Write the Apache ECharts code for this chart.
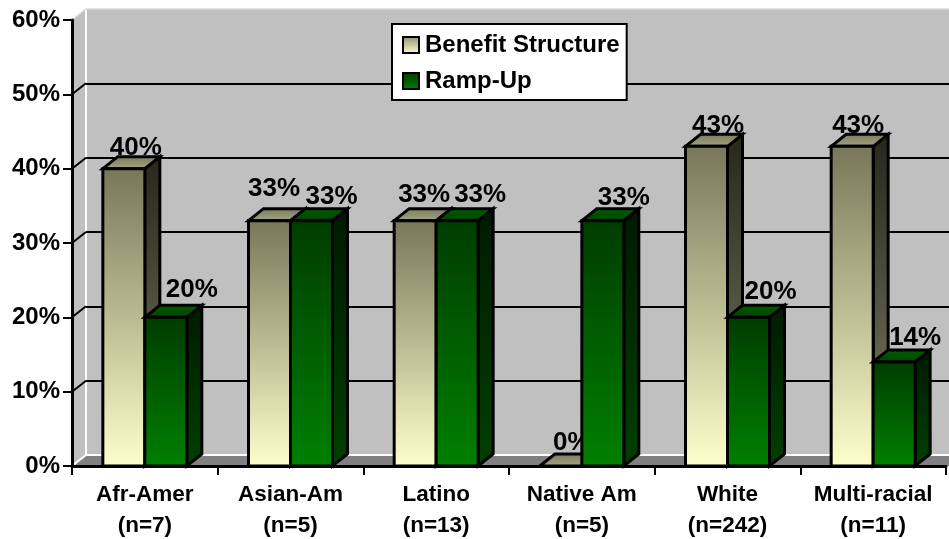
<!DOCTYPE html>
<html><head><meta charset="utf-8">
<style>html,body{margin:0;padding:0;background:#fff}#c{width:949px;height:539px}</style>
<script src="https://cdn.jsdelivr.net/npm/echarts@6/dist/echarts.min.js"></script>
</head><body><div id="c"></div>
<script>
const categories = ['Afr-Amer\n(n=7)','Asian-Am\n(n=5)','Latino\n(n=13)','Native Am\n(n=5)','White\n(n=242)','Multi-racial\n(n=11)'];
const benefitStructure = [40,33,33,0,43,43];
const rampUp = [20,33,33,33,20,14];
const yTicks = [0,10,20,30,40,50,60];
// label placement relative to the bar (Excel's hand-nudged labels)
const benefitLabelNudge = [[12,-21],[4.5,-31.5],[9,-25.5],[11,-23.5],[11.5,-20.5],[6,-20.5]];
const rampLabelNudge = [[26,-27.5],[20,-24],[23,-25.5],[21,-22.5],[22,-25.5],[21,-24.5]];

const FONT = '"Liberation Sans", Arial, sans-serif';
const WALL_DX = 14, WALL_DY = -11, BAR_DX = 15, BAR_DY = -12, BAR_FRAC = 42 / 145.7;
const G = (a, b, x2, y2) => new echarts.graphic.LinearGradient(0, 0, x2 === undefined ? 0 : x2, y2 === undefined ? 1 : y2, [{offset:0,color:a},{offset:1,color:b}]);

const palette = {
  benefit: {front:['#777759','#ffffcc'], side:['#26261b','#7f7f66'], top:['#77775a','#a8a888']},
  ramp:    {front:['#003c00','#008000'], side:['#001a00','#004000'], top:['#006000','#004000']}
};

function barRender(side, pal, nudge) {
  return function (params, api) {
    const i = api.value(0), v = api.value(1);
    const base = api.coord([i, 0]);
    const top = api.coord([i, v]);
    const w = api.size([1, 0])[0] * BAR_FRAC;
    const x0 = side < 0 ? base[0] - w : base[0];
    const x1 = x0 + w;
    const yb = base[1], yt = top[1];
    const stroke = {stroke:'#000', lineWidth:3, lineJoin:'miter'};
    const children = [];
    children.push({type:'polygon', shape:{points:[[x1,yt],[x1+BAR_DX,yt+BAR_DY],[x1+BAR_DX,yb+BAR_DY],[x1,yb]]},
      style:Object.assign({fill:G(pal.side[0],pal.side[1])}, stroke)});
    children.push({type:'polygon', shape:{points:[[x0,yt],[x0+BAR_DX,yt+BAR_DY],[x1+BAR_DX,yt+BAR_DY],[x1,yt]]},
      style:Object.assign({fill:G(pal.top[0],pal.top[1])}, stroke)});
    if (v > 0) children.push({type:'rect', shape:{x:x0,y:yt,width:w,height:yb-yt},
      style:Object.assign({fill:G(pal.front[0],pal.front[1])}, stroke)});
    const n = nudge[i];
    children.push({type:'text', style:{text:v+'%', x:(x0+x1)/2+n[0], y:yt+n[1], textAlign:'center', textVerticalAlign:'middle',
      fill:'#000', font:'bold 26px '+FONT}});
    return {type:'group', children};
  };
}

function axisLeft(api) { return api.coord([0, 0])[0] - api.size([1, 0])[0] / 2; }

function wallRender(params, api) {
  const xl = axisLeft(api);
  const p0 = [xl, api.coord([0, 0])[1]], p60 = [xl, api.coord([0, 60])[1]];
  const xr = api.getWidth() + 40;
  const white = {stroke:'#fff', lineWidth:2, fill:null};
  return {type:'group', children:[
    {type:'polygon', shape:{points:[[p0[0],p0[1]],[p60[0],p60[1]],[p60[0]+WALL_DX,p60[1]+WALL_DY],[p0[0]+WALL_DX,p0[1]+WALL_DY]]}, style:{fill:'#c0c0c0'}},
    {type:'polygon', shape:{points:[[p0[0],p0[1]],[p0[0]+WALL_DX,p0[1]+WALL_DY],[xr,p0[1]+WALL_DY],[xr,p0[1]]]}, style:{fill:'#808080'}},
    {type:'line', shape:{x1:p0[0]+WALL_DX,y1:p0[1]+WALL_DY,x2:p60[0]+WALL_DX,y2:p60[1]+WALL_DY}, style:white},
    {type:'line', shape:{x1:p0[0]+WALL_DX,y1:p0[1]+WALL_DY,x2:xr,y2:p0[1]+WALL_DY}, style:white},
    {type:'line', shape:{x1:p0[0],y1:p0[1],x2:p0[0]+WALL_DX,y2:p0[1]+WALL_DY}, style:white},
    {type:'line', shape:{x1:p60[0],y1:p60[1],x2:p60[0]+WALL_DX,y2:p60[1]+WALL_DY}, style:{stroke:'#d8d8d8',lineWidth:1.5,fill:null}},
    {type:'line', shape:{x1:p60[0]+WALL_DX,y1:p60[1]+WALL_DY,x2:xr,y2:p60[1]+WALL_DY}, style:{stroke:'#d8d8d8',lineWidth:1.5,fill:null}}
  ]};
}

function diagRender(params, api) {
  const x = axisLeft(api), y = api.coord([0, api.value(1)])[1];
  return {type:'line', shape:{x1:x,y1:y,x2:x+WALL_DX,y2:y+WALL_DY}, style:{stroke:'#000',lineWidth:2,fill:null}};
}

const chart = echarts.init(document.getElementById('c'), null, {renderer:'canvas'});
chart.setOption({
  animation:false,
  backgroundColor:'#fff',
  textStyle:{fontFamily:FONT},
  grid:[
    {left:72, top:20, width:874, height:446, containLabel:false, outerBoundsMode:'none'},
    {left:86, top:9, width:874, height:446, show:true, backgroundColor:'#c0c0c0', borderWidth:0, z:0, outerBoundsMode:'none'}
  ],
  legend:{
    data:['Benefit Structure','Ramp-Up'], orient:'vertical', left:392, top:24,
    padding:[9,7,7,10], itemWidth:16, itemHeight:16, itemGap:12, icon:'rect',
    backgroundColor:'#fff', borderColor:'#000', borderWidth:2, z:20,
    selectedMode:false,
    textStyle:{fontFamily:FONT, fontWeight:'bold', fontSize:24, color:'#000', padding:[0,0,0,1]}
  },
  xAxis:[
    {type:'category', gridIndex:0, data:categories, z:6,
     axisLine:{lineStyle:{color:'#000',width:3}},
     axisTick:{show:true, length:9, lineStyle:{color:'#000',width:2}},
     axisLabel:{color:'#000', fontFamily:FONT, fontWeight:'bold', fontSize:22.5, lineHeight:31, margin:13, interval:0},
     splitLine:{show:false}},
    {type:'category', gridIndex:1, data:categories, show:false}
  ],
  yAxis:[
    {type:'value', gridIndex:0, min:0, max:60, interval:10, z:6,
     axisLine:{show:true, lineStyle:{color:'#000',width:3}},
     axisTick:{show:true, length:9, lineStyle:{color:'#000',width:2}},
     axisLabel:{color:'#000', fontFamily:FONT, fontWeight:'bold', fontSize:24, margin:12, formatter:'{value}%'},
     splitLine:{show:false}},
    {type:'value', gridIndex:1, min:0, max:60, interval:10, z:3,
     axisLine:{show:false}, axisTick:{show:false}, axisLabel:{show:false},
     splitLine:{show:true, showMinLine:false, showMaxLine:false, lineStyle:{color:'#000',width:2}}}
  ],
  series:[
    {type:'custom', silent:true, xAxisIndex:0, yAxisIndex:0, z:2, clip:false, data:[[0,0]], renderItem:wallRender},
    {type:'custom', silent:true, xAxisIndex:0, yAxisIndex:0, z:4, clip:false, data:yTicks.slice(1,6).map(t=>[0,t]), renderItem:diagRender},
    {name:'Benefit Structure', type:'custom', silent:true, xAxisIndex:0, yAxisIndex:0, z:5, clip:false,
     itemStyle:{color:G('#8f8f72','#ffffcc'), borderColor:'#000', borderWidth:2},
     data:benefitStructure.map((v,i)=>[i,v]), renderItem:barRender(-1, palette.benefit, benefitLabelNudge)},
    {name:'Ramp-Up', type:'custom', silent:true, xAxisIndex:0, yAxisIndex:0, z:5, clip:false,
     itemStyle:{color:G('#003c00','#008000'), borderColor:'#000', borderWidth:2},
     data:rampUp.map((v,i)=>[i,v]), renderItem:barRender(1, palette.ramp, rampLabelNudge)}
  ]
});
</script></body></html>
